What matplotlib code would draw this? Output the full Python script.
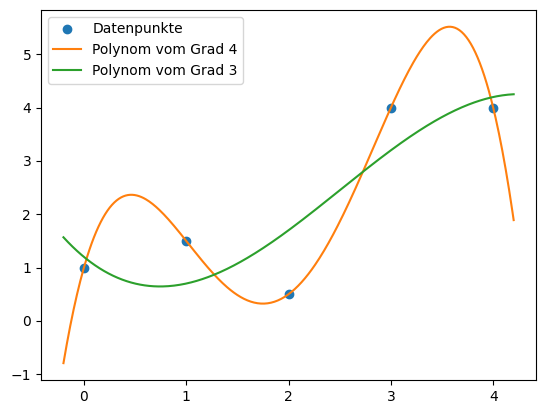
import numpy as np
import matplotlib.pyplot as plt

# Datenpunkte
x_data = [0, 1, 2, 3, 4]
y_data = [1, 1.5, 0.5, 4, 4]

# Polynome aus den Punkten
p4 = np.polyfit(x_data, y_data, 4)
p3 = np.polyfit(x_data, y_data, 3)
x = np.linspace(-0.2, 4.2, 400)

fig = plt.figure(figsize=(5.46, 4.13), dpi=100)
ax = fig.add_subplot(111)
fig.subplots_adjust(left=0.075, right=0.982, top=0.976, bottom=0.08)

ax.plot(x_data, y_data, 'o', label='Datenpunkte')
ax.plot(x, np.polyval(p4, x), label='Polynom vom Grad 4')
ax.plot(x, np.polyval(p3, x), label='Polynom vom Grad 3')
ax.legend(loc='upper left')

fig.savefig('out.png')
